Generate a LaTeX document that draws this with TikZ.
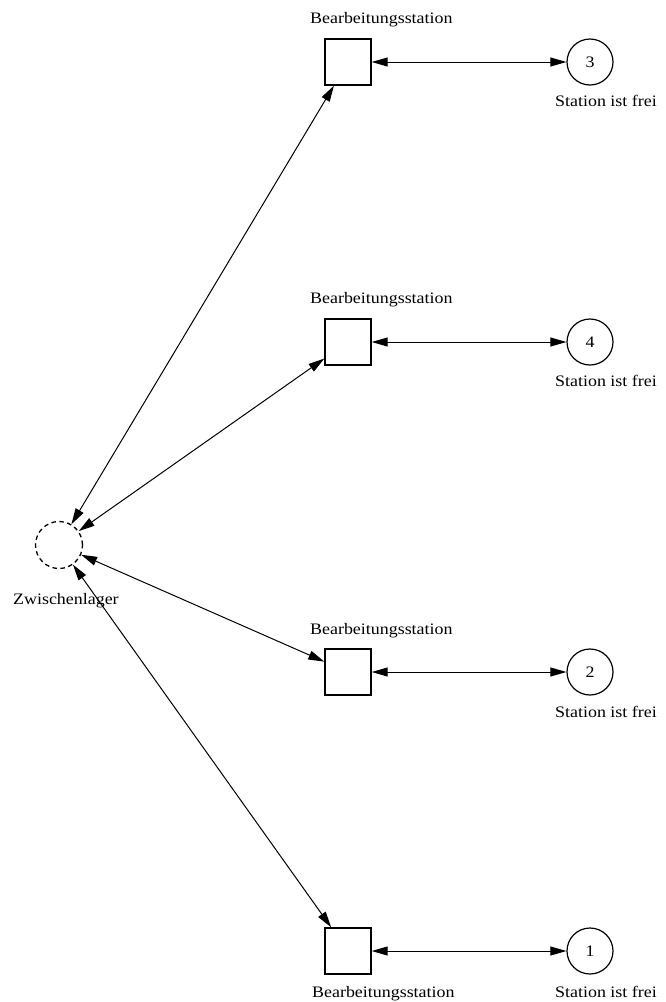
\documentclass[tikz,border=0pt]{standalone}
\usepackage{fontspec}
\setmainfont[FakeStretch=1.12]{Liberation Serif}
\usetikzlibrary{arrows.meta}
\begin{document}
\begin{tikzpicture}[x=1pt,y=1pt,
  every node/.style={font=\fontsize{16}{19}\selectfont},
  station/.style={draw,line width=1.4pt,minimum size=46pt,inner sep=0pt},
  place/.style={draw,circle,line width=1.2pt,minimum size=46pt,inner sep=0pt},
  buffer/.style={draw,circle,line width=1.3pt,dash pattern=on 4.5pt off 3.5pt,minimum size=47pt,inner sep=0pt},
  lbl/.style={inner sep=0pt,anchor=base west},
  conn/.style={line width=1pt,{Triangle[length=16pt,width=9pt]}-{Triangle[length=16pt,width=9pt]}}]
\useasboundingbox (0,0) rectangle (666,-1002);
% buffer
\node[buffer] (z) at (59,-545) {};
\node[lbl] (zl) at (13,-604) {Zwischenlager};
% stations
\node[station] (s3) at (348,-62) {};
\node[station] (s4) at (348,-342) {};
\node[station] (s2) at (348,-672) {};
\node[station] (s1) at (348,-951) {};
\node[place] (p3) at (590,-62) {3};
\node[place] (p4) at (590,-342) {4};
\node[place] (p2) at (590,-672) {2};
\node[place] (p1) at (590,-951) {1};
% labels
\node[lbl] (l3) at (310,-23) {Bearbeitungsstation};
\node[lbl] (l4) at (310,-303) {Bearbeitungsstation};
\node[lbl] (l2) at (310,-634) {Bearbeitungsstation};
\node[lbl] (l1) at (312,-997) {Bearbeitungsstation};
\node[lbl] (f3) at (555,-106) {Station ist frei};
\node[lbl] (f4) at (555,-386) {Station ist frei};
\node[lbl] (f2) at (555,-717) {Station ist frei};
\node[lbl] (f1) at (555,-997) {Station ist frei};
% connectors
\draw[conn] (z) -- (s3);
\draw[conn] (z) -- (s4);
\draw[conn] (z) -- (s2);
\draw[conn] (z) -- (s1);
\draw[conn] (s3) -- (p3);
\draw[conn] (s4) -- (p4);
\draw[conn] (s2) -- (p2);
\draw[conn] (s1) -- (p1);
\end{tikzpicture}
\end{document}
